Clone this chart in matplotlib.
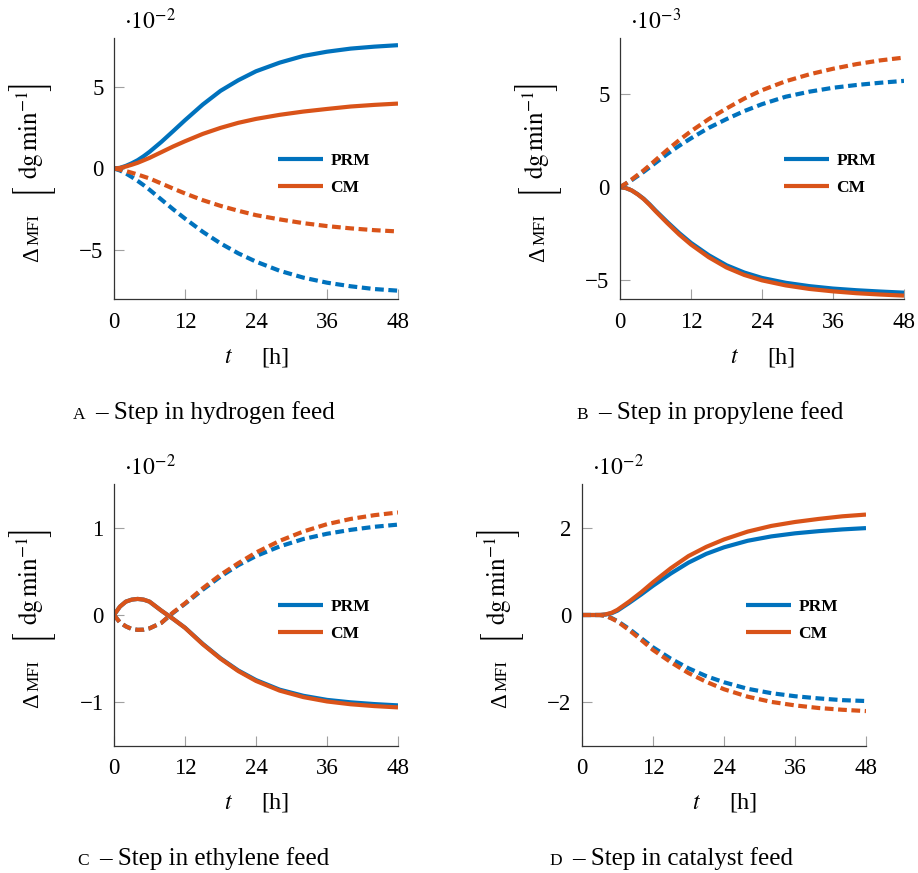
import matplotlib
matplotlib.use("Agg")
import matplotlib.pyplot as plt

plt.rcParams["font.family"] = ["Liberation Serif", "DejaVu Serif"]
plt.rcParams["mathtext.fontset"] = "stix"

# Time grid [h]
t_h = [0, 1, 2, 3, 4, 5, 6, 8, 10, 12, 15, 18, 21, 24, 28, 32, 36, 40, 44, 48]

# A - hydrogen feed step (units of 1e-2 dg/min)
h2_prm_solid = [0, 0.04, 0.16, 0.32, 0.51, 0.75, 1.02, 1.63, 2.29, 2.96, 3.92, 4.76,
                5.41, 5.96, 6.49, 6.90, 7.16, 7.35, 7.47, 7.56]
h2_cm_solid = [0, 0.03, 0.12, 0.23, 0.35, 0.50, 0.65, 1.00, 1.35, 1.67, 2.12, 2.49,
               2.80, 3.04, 3.29, 3.49, 3.65, 3.80, 3.90, 3.98]
h2_prm_dash = [0, -0.12, -0.30, -0.52, -0.76, -1.02, -1.30, -1.90, -2.50, -3.07, -3.88,
               -4.59, -5.20, -5.71, -6.27, -6.69, -7.00, -7.22, -7.39, -7.49]
h2_cm_dash = [0, -0.07, -0.16, -0.26, -0.37, -0.49, -0.61, -0.92, -1.23, -1.53, -1.94,
              -2.29, -2.59, -2.86, -3.12, -3.35, -3.53, -3.67, -3.78, -3.86]

# B - propylene feed step (units of 1e-3 dg/min)
c3_prm_solid = [0, -0.05, -0.18, -0.38, -0.62, -0.92, -1.25, -1.87, -2.46, -2.99, -3.65,
                -4.19, -4.58, -4.87, -5.13, -5.31, -5.44, -5.53, -5.60, -5.66]
c3_cm_solid = [0, -0.05, -0.18, -0.39, -0.64, -0.95, -1.29, -1.93, -2.54, -3.08, -3.76,
               -4.31, -4.71, -5.00, -5.27, -5.46, -5.59, -5.69, -5.76, -5.82]
c3_prm_dash = [0, 0.18, 0.38, 0.60, 0.82, 1.06, 1.30, 1.78, 2.22, 2.62, 3.18, 3.65,
               4.08, 4.45, 4.85, 5.12, 5.33, 5.48, 5.60, 5.70]
c3_cm_dash = [0, 0.20, 0.42, 0.66, 0.90, 1.17, 1.45, 2.00, 2.52, 3.00, 3.65, 4.22,
              4.75, 5.20, 5.68, 6.05, 6.35, 6.60, 6.80, 6.95]

# C - ethylene feed step (units of 1e-2 dg/min)
c2_prm_solid = [0, 0.096, 0.153, 0.176, 0.184, 0.176, 0.153, 0.05, -0.045, -0.145, -0.33,
                -0.495, -0.635, -0.745, -0.855, -0.925, -0.972, -1.0, -1.02, -1.035]
c2_cm_solid = [0, 0.096, 0.153, 0.176, 0.184, 0.176, 0.153, 0.05, -0.045, -0.147, -0.335,
               -0.50, -0.642, -0.755, -0.866, -0.94, -0.99, -1.022, -1.043, -1.058]
c2_prm_dash = [0, -0.085, -0.13, -0.16, -0.17, -0.168, -0.153, -0.09, 0.025, 0.128, 0.29,
               0.44, 0.57, 0.675, 0.785, 0.87, 0.93, 0.975, 1.01, 1.035]
c2_cm_dash = [0, -0.085, -0.13, -0.16, -0.17, -0.168, -0.153, -0.09, 0.03, 0.134, 0.306,
              0.46, 0.593, 0.715, 0.849, 0.956, 1.04, 1.10, 1.143, 1.174]

# D - catalyst feed step (units of 1e-2 dg/min)
cat_prm_solid = [0, 0, 0, 0, 0.01, 0.04, 0.10, 0.28, 0.47, 0.67, 0.95, 1.20, 1.40, 1.55,
                 1.70, 1.80, 1.87, 1.92, 1.96, 1.99]
cat_cm_solid = [0, 0, 0, 0, 0.015, 0.05, 0.12, 0.31, 0.52, 0.75, 1.07, 1.35, 1.56, 1.73,
                1.91, 2.04, 2.13, 2.20, 2.26, 2.30]
cat_prm_dash = [0, 0, 0, 0, -0.02, -0.07, -0.14, -0.32, -0.53, -0.74, -1.00, -1.22, -1.40,
                -1.54, -1.69, -1.79, -1.86, -1.91, -1.95, -1.97]
cat_cm_dash = [0, 0, 0, 0, -0.02, -0.08, -0.15, -0.35, -0.57, -0.80, -1.08, -1.33, -1.53,
               -1.70, -1.87, -1.99, -2.07, -2.13, -2.17, -2.20]

x_ticks = [0, 12, 24, 36, 48]
model_labels = ["PRM", "CM"]

panels = [
    dict(letter="A", caption="– Step in hydrogen feed", exp=-2,
         series=(h2_prm_solid, h2_cm_solid, h2_prm_dash, h2_cm_dash),
         ylim=(-8, 8), yticks=[-5, 0, 5], box=(114, 38, 284, 261)),
    dict(letter="B", caption="– Step in propylene feed", exp=-3,
         series=(c3_prm_solid, c3_cm_solid, c3_prm_dash, c3_cm_dash),
         ylim=(-6, 8), yticks=[-5, 0, 5], box=(620, 38, 284, 261)),
    dict(letter="C", caption="– Step in ethylene feed", exp=-2,
         series=(c2_prm_solid, c2_cm_solid, c2_prm_dash, c2_cm_dash),
         ylim=(-1.5, 1.5), yticks=[-1, 0, 1], box=(114, 484, 284, 262)),
    dict(letter="D", caption="– Step in catalyst feed", exp=-2,
         series=(cat_prm_solid, cat_cm_solid, cat_prm_dash, cat_cm_dash),
         ylim=(-3, 3), yticks=[-2, 0, 2], box=(582, 484, 284, 262)),
]

BLUE = "#0072BD"
ORANGE = "#D95319"
LW = 3.0
DASH = (0, (2.1, 1.1))
BRACKET_FAMILY = ["STIXSizeTwoSym", "Liberation Serif"]

W, H = 918, 873
fig = plt.figure(figsize=(W / 100, H / 100), dpi=100)


def fx(px):
    return px / W


def fy(py):
    return 1 - py / H


renderer = fig.canvas.get_renderer()

# size the tall unit brackets so they span about 44 px
probe = fig.text(0, 0, "[", family=BRACKET_FAMILY, fontsize=20)
bracket_size = 20 * 44.0 / probe.get_window_extent(renderer).height
probe.remove()

for p in panels:
    left, top, w, h = p["box"]
    ax = fig.add_axes([fx(left), fy(top + h), w / W, h / H])
    prm_s, cm_s, prm_d, cm_d = p["series"]
    l1, = ax.plot(t_h, prm_s, color=BLUE, lw=LW, solid_capstyle="butt", label=model_labels[0])
    l2, = ax.plot(t_h, cm_s, color=ORANGE, lw=LW, solid_capstyle="butt", label=model_labels[1])
    ax.plot(t_h, prm_d, color=BLUE, lw=LW, ls=DASH, dash_capstyle="butt")
    ax.plot(t_h, cm_d, color=ORANGE, lw=LW, ls=DASH, dash_capstyle="butt")

    ax.set_xlim(0, 48)
    ax.set_ylim(*p["ylim"])
    ax.set_xticks(x_ticks)
    ax.set_yticks(p["yticks"])
    for s in ("top", "right"):
        ax.spines[s].set_visible(False)
    for s in ("left", "bottom"):
        ax.spines[s].set_color("#333333")
        ax.spines[s].set_linewidth(0.9)
    ax.tick_params(direction="in", length=7.5, width=0.8, color="#a0a0a0",
                   labelsize=16.5)
    ax.tick_params(axis="x", pad=9)
    ax.tick_params(axis="y", pad=7.5)

    ax.legend(handles=[l1, l2], loc="center left", bbox_to_anchor=(0.576, 0.478),
              frameon=False, prop=dict(weight="bold", size=12.5),
              handlelength=2.62, handletextpad=0.42, labelspacing=0.64,
              borderaxespad=0, borderpad=0)

    # axis multiplier
    fig.text(fx(left + 10), fy(top - 9), r"$\cdot 10^{%d}$" % p["exp"],
             fontsize=17, ha="left", va="baseline")

    # y-axis label: Delta, small-caps MFI, unit in tall brackets
    yb = left - 76
    fig.text(fx(yb), fy(top + 224), "Δ", fontsize=16.5, rotation=90,
             rotation_mode="anchor", ha="left", va="baseline")
    fig.text(fx(yb), fy(top + 207), "MFI", fontsize=12.5, rotation=90,
             rotation_mode="anchor", ha="left", va="baseline")
    fig.text(fx(left - 84), fy(top + 155), "[", family=BRACKET_FAMILY,
             fontsize=bracket_size, rotation=90, rotation_mode="anchor",
             ha="left", va="center")
    fig.text(fx(left - 84), fy(top + 42), "]", family=BRACKET_FAMILY,
             fontsize=bracket_size, rotation=90, rotation_mode="anchor",
             ha="right", va="center")
    fig.text(fx(yb), fy(top + 97), r"$\mathrm{dg\,min}^{-1}$",
             fontsize=18, rotation=90, rotation_mode="anchor",
             ha="center", va="baseline")

    # x-axis label
    fig.text(fx(left + 114), fy(top + 325), r"$t$", fontsize=17,
             ha="center", va="baseline")
    fig.text(fx(left + 161), fy(top + 325), "[h]", fontsize=17.5,
             ha="center", va="baseline")

    # sub-caption with small-caps letter
    base = fy(top + 381)
    letter = fig.text(0, base, p["letter"], fontsize=12.5, ha="left", va="baseline")
    main = fig.text(0, base, p["caption"], fontsize=18, ha="left", va="baseline")
    wl = letter.get_window_extent(renderer).width
    wm = main.get_window_extent(renderer).width
    gap = 10
    x0 = left + 89.5 - (wl + gap + wm) / 2
    letter.set_x(fx(x0))
    main.set_x(fx(x0 + wl + gap))

fig.savefig("out.png", dpi=100)
